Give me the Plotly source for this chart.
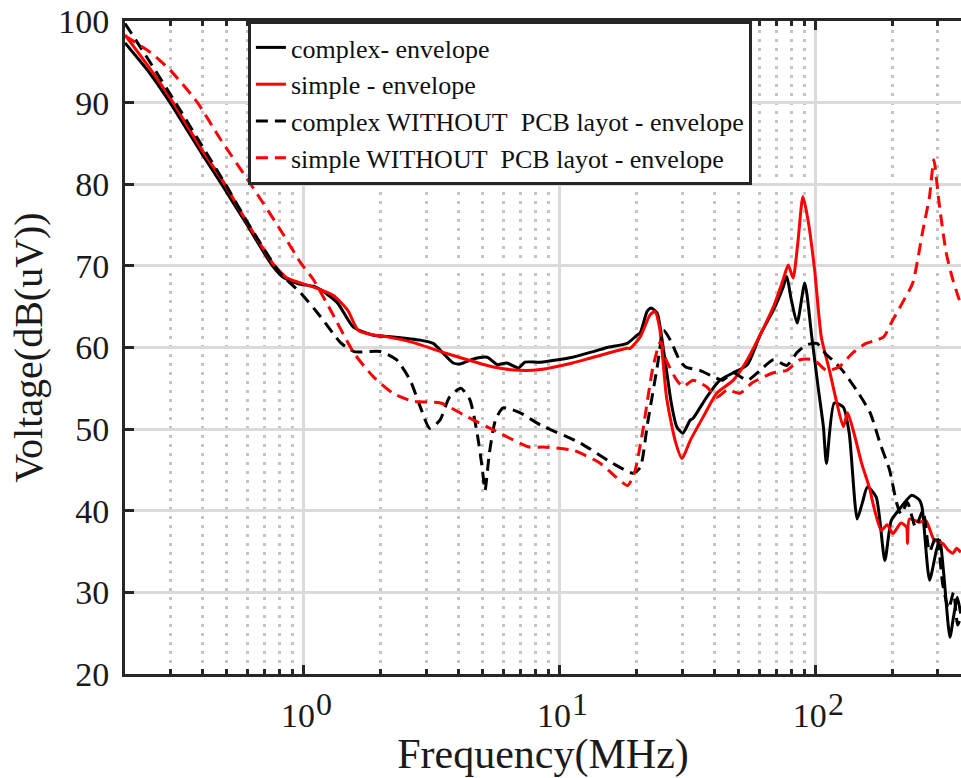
import math
import plotly.graph_objects as go

# ---------------- data ----------------
f_complex = [0.2, 0.25, 0.3, 0.4, 0.477, 0.6, 0.754, 0.83, 0.95, 1.09, 1.16, 1.35, 1.56, 1.87,
             2.23, 2.85, 3.2, 3.5, 3.83, 4.1, 4.6, 5.2, 5.7, 6.2, 6.9, 7.3, 8.4, 11.2, 13.5,
             15.3, 18.3, 20.0, 20.6, 21.9, 22.5, 22.9, 24.0, 25.3, 27.0, 27.7, 28.6, 30.2,
             32.3, 33.1, 37.4, 42.2, 47.6, 54.0, 60.5, 68.3, 74.5, 77.0, 80.0, 84.5, 90.5,
             96.4, 102, 107, 110, 118, 128, 135, 145, 152, 159, 172, 186, 197, 211, 237,
             254, 260, 278, 296, 305, 315, 334, 345, 357, 368]
v_complex = [97.3, 93.6, 90.0, 83.7, 80.0, 75.0, 70.0, 68.6, 67.8, 67.5, 67.1, 65.5, 62.5, 61.5,
             61.3, 60.9, 60.5, 59.3, 58.1, 58.0, 58.6, 58.8, 57.9, 58.1, 57.5, 58.2, 58.2, 58.8, 59.5,
             60.0, 60.5, 61.5, 61.8, 64.4, 64.8, 64.8, 64.2, 60.1, 53.9, 52.0, 50.3, 49.5,
             51.1, 51.3, 53.9, 56.0, 56.9, 57.9, 61.5, 64.6, 67.4, 68.7, 66.0, 63.0, 67.9,
             61.3, 55.2, 50.3, 45.8, 53.2, 52.7, 49.5, 39.0, 41.0, 42.9, 41.7, 33.9, 38.8, 40.1, 41.9,
             41.3, 40.4, 31.5, 35.2, 36.4, 32.7, 24.5, 27.0, 29.4, 27.4]

f_simple = [0.2, 0.25, 0.3, 0.4, 0.48, 0.6, 0.76, 0.86, 0.95, 1.09, 1.3, 1.48, 1.63, 1.82,
            2.12, 2.68, 3.42, 4.35, 5.5, 7.0, 8.4, 11.2, 13.5, 18.3, 18.8, 20.6, 22.5, 23.5,
            24.5, 26.1, 28.2, 30.0, 32.3, 36.3, 41.0, 47.6, 54.0, 60.5, 68.3, 74.5, 78.0,
            81.5, 85.0, 89.0, 93.2, 98.9, 105, 113, 120, 128, 133, 142, 151, 163, 166, 180,
            190, 200, 215, 226, 228, 232, 254, 269, 290, 313, 328, 343, 355, 368]
v_simple = [98.3, 94.2, 90.6, 84.2, 80.5, 75.3, 70.2, 68.5, 68.0, 67.4, 66.4, 64.6, 62.1, 61.6,
            61.3, 60.6, 59.5, 58.5, 57.6, 57.2, 57.3, 58.1, 58.8, 59.9, 59.9, 61.3, 64.0, 64.4,
            62.5, 53.9, 48.6, 46.4, 48.6, 51.5, 54.4, 56.0, 58.5, 61.5, 65.0, 68.3, 70.1,
            68.5, 72.8, 78.5, 75.6, 69.5, 61.3, 57.2, 53.6, 50.3, 52.0, 49.1, 45.8, 42.5, 41.3, 37.6,
            38.3, 37.2, 38.5, 38.0, 36.0, 39.0, 38.6, 38.8, 36.4, 36.0, 35.2, 34.8, 35.4, 34.9]

f_complex_nopcb = [0.2, 0.25, 0.315, 0.4, 0.494, 0.6, 0.77, 0.83, 0.97, 1.16, 1.39, 1.57, 1.99,
                   2.3, 2.6, 2.85, 3.1, 3.4, 3.7, 4.1, 4.45, 4.75, 4.97, 5.1, 5.3, 5.6, 6.0, 7.0,
                   8.4, 12.0, 16.1, 19.3, 20.6, 22.0, 24.0, 25.4, 27.0, 29.3, 31.0, 35.2, 39.8,
                   43.3, 47.6, 54.0, 60.5, 68.3, 77.0, 84.5, 91.6, 101, 110, 116, 127, 144, 163,
                   178, 194, 207, 215, 228, 245, 262, 278, 296, 313, 330, 345, 358, 368]
v_complex_nopcb = [99.7, 95.0, 90.0, 84.7, 80.0, 75.4, 70.0, 68.7, 66.7, 63.8, 60.6, 59.5, 59.5,
                   58.5, 56.0, 52.7, 50.1, 51.1, 53.9, 55.0, 53.6, 49.5, 45.3, 42.5, 47.0, 51.1, 52.6, 52.0,
                   50.5, 48.3, 45.8, 44.6, 45.3, 50.7, 57.6, 62.1, 60.9, 58.5, 57.6, 57.2, 56.4,
                   56.0, 56.9, 56.0, 57.2, 58.5, 57.8, 59.4, 60.3, 60.5, 59.1, 58.5, 57.2, 54.8, 52.0,
                   48.3, 45.0, 40.9, 39.6, 41.0, 38.0, 40.0, 35.0, 37.0, 31.0, 28.0, 30.0, 26.0, 27.0]

f_simple_nopcb = [0.2, 0.25, 0.3, 0.384, 0.47, 0.62, 0.81, 0.97, 1.09, 1.27, 1.57, 1.87, 2.23,
                  2.68, 3.42, 4.35, 5.5, 7.6, 8.6, 11.3, 14.4, 16.6, 18.4, 19.5, 21.0, 23.1,
                  24.7, 26.0, 28.6, 30.3, 33.1, 37.4, 41.0, 45.0, 50.6, 56.6, 68.3, 77.0, 86.8,
                  98.0, 110, 123, 139, 157, 172, 184, 200, 218, 239, 262, 278, 289, 303, 323,
                  343, 368]
v_simple_nopcb = [98.2, 96.2, 94.0, 90.0, 85.6, 80.0, 74.4, 70.4, 68.3, 64.6, 59.3, 56.4, 54.4,
                  53.4, 53.2, 51.5, 49.9, 47.8, 47.8, 47.4, 45.8, 44.1, 43.1, 44.5, 49.5, 57.6,
                  60.7, 58.5, 56.0, 55.2, 56.0, 55.2, 53.9, 54.8, 54.4, 55.7, 56.9, 57.2, 58.5,
                  58.5, 57.2, 57.6, 59.3, 60.5, 60.9, 61.3, 63.4, 65.5, 67.9, 74.4, 78.5, 83.0, 77.7, 71.6,
                  68.3, 65.3]

series_names = ["complex- envelope", "simple - envelope",
                "complex WITHOUT\u00a0 PCB layot - envelope",
                "simple WITHOUT\u00a0 PCB layot - envelope"]

x_major_ticks = [1, 10, 100]
x_major_base = ["10", "10", "10"]
x_major_exps = ["0", "1", "2"]
x_minor_ticks = [0.2, 0.3, 0.4, 0.5, 0.6, 0.7, 0.8, 0.9,
                 2, 3, 4, 5, 6, 7, 8, 9,
                 20, 30, 40, 50, 60, 70, 80, 90,
                 200, 300, 400, 500]
y_ticks = [20, 30, 40, 50, 60, 70, 80, 90, 100]

# ---------------- figure ----------------
FONT = "Liberation Serif, Times New Roman, serif"
AX = "#262626"

fig = go.Figure()
styles = [("#000000", "solid"), ("#ff0000", "solid"),
          ("#000000", "12px,7px"), ("#ff0000", "12px,7px")]
datasets = [(f_complex, v_complex), (f_simple, v_simple),
            (f_complex_nopcb, v_complex_nopcb), (f_simple_nopcb, v_simple_nopcb)]
for (fx, vy), name, (col, dash) in zip(datasets, series_names, styles):
    fig.add_trace(go.Scatter(x=fx, y=vy, mode="lines", name=name,
                             line=dict(color=col, width=3, dash=dash, shape="spline", smoothing=0.6)))

# exponents of the decade tick labels, drawn full size as in the reference
for tv, ex in zip(x_major_ticks, x_major_exps):
    fig.add_annotation(x=math.log10(tv), xref="x", y=0, yref="paper",
                       text=ex, showarrow=False, xanchor="center", yanchor="top",
                       xshift=20, yshift=-10,
                       font=dict(family=FONT, size=32, color="#1a1a1a"))

fig.update_layout(
    width=961, height=778,
    margin=dict(l=125, r=0, t=21, b=104),
    paper_bgcolor="white", plot_bgcolor="white",
    font=dict(family=FONT, color="#1a1a1a"),
    showlegend=True,
    legend=dict(x=0.147, y=1.0, xanchor="left", yanchor="top",
                bgcolor="white", bordercolor=AX, borderwidth=3,
                font=dict(family=FONT, size=26, color="#111111"),
                itemwidth=30, tracegroupgap=0),
)

fig.update_xaxes(
    type="log",
    range=[-0.69897, 2.567],
    automargin=False,
    tickmode="array", tickvals=x_major_ticks, ticktext=x_major_base,
    ticks="inside", ticklen=9, tickwidth=3, tickcolor=AX,
    tickfont=dict(family=FONT, size=34, color="#1a1a1a"),
    ticklabelstandoff=9, ticklabelshift=-6,
    showline=True, linewidth=3, linecolor=AX, mirror="allticks",
    showgrid=True, gridcolor="#dadada", gridwidth=3,
    minor=dict(tickmode="array", tickvals=x_minor_ticks, ticks="inside", ticklen=5,
               tickwidth=3, tickcolor=AX, showgrid=True, gridcolor="#c4c4c4",
               gridwidth=3, griddash="3px,6px"),
    title=dict(text="Frequency(MHz)", font=dict(family=FONT, size=42, color="#1a1a1a"),
               standoff=21),
    zeroline=False,
)
fig.update_yaxes(
    range=[20, 100],
    automargin=False,
    tickmode="array", tickvals=y_ticks,
    ticks="inside", ticklen=9, tickwidth=3, tickcolor=AX,
    tickfont=dict(family=FONT, size=34, color="#1a1a1a"),
    ticklabelstandoff=6,
    showline=True, linewidth=3, linecolor=AX, mirror=False,
    showgrid=True, gridcolor="#dadada", gridwidth=3,
    title=dict(text="Voltage(dB(uV))", font=dict(family=FONT, size=40, color="#1a1a1a"),
               standoff=4),
    zeroline=False,
)

fig.write_html("out.html")
